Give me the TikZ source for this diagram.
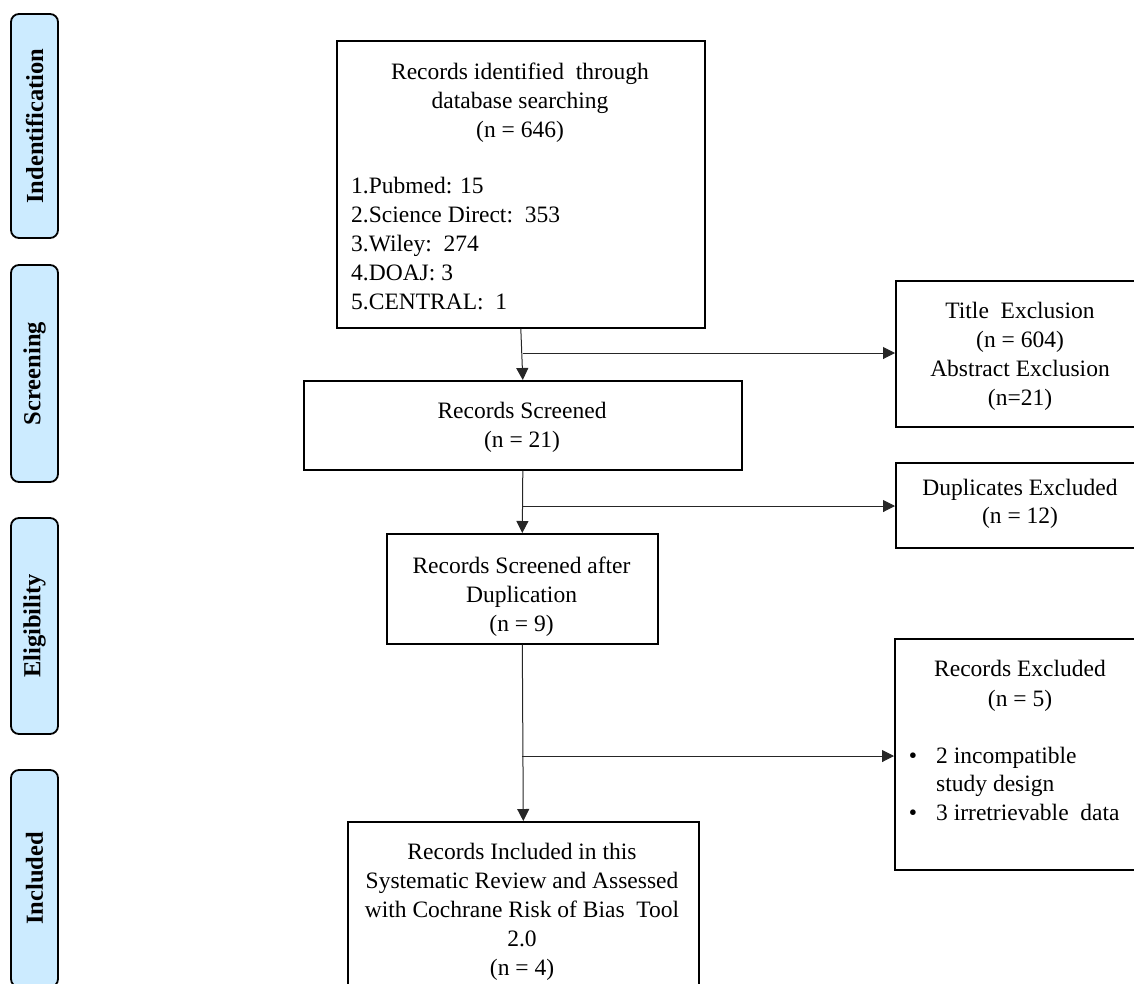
\documentclass[tikz,border=0pt]{standalone}
\usepackage{fontspec}
\setmainfont{Liberation Serif}
\usetikzlibrary{arrows.meta}
\definecolor{phaseblue}{RGB}{204,235,255}
\begin{document}
\begin{tikzpicture}[x=1pt,y=-1pt,
  phase/.style={draw, line width=1.8pt, rounded corners=8pt, fill=phaseblue, minimum width=47pt, inner sep=0pt},
  lbl/.style={rotate=90, font=\fontsize{24.5}{29}\selectfont\bfseries, inner sep=0pt},
  box/.style={draw, line width=1.6pt, inner sep=0pt, anchor=north west},
  txt/.style={font=\fontsize{23.5}{29}\selectfont, inner sep=0pt, anchor=base},
  ltxt/.style={txt, anchor=base west},
  arr/.style={line width=1pt, draw=black!85, -{Triangle[length=12pt,width=12pt]}}]
\useasboundingbox (0,0) rectangle (1134,983);
\clip (0,0) rectangle (1134,983);

% phase labels
\node[phase, minimum height=224pt] (p1) at (34.5,126) {};
\node[lbl] (l1) at (p1.center) {Indentification};
\node[phase, minimum height=217pt] (p2) at (34.5,373.5) {};
\node[lbl] (l2) at (p2.center) {Screening};
\node[phase, minimum height=216pt] (p3) at (34.5,626) {};
\node[lbl] (l3) at (p3.center) {Eligibility};
\node[phase, minimum height=217pt] (p4) at (34.5,878.5) {};
\node[lbl] (l4) at (p4.center) {Included};

% main boxes
\node[box, minimum width=368pt, minimum height=287pt] (b1) at (336,40) {};
\node[txt] (b1a) at (520,79) {Records identified\ \ through};
\node[txt] (b1b) at (520,108) {database searching};
\node[txt] (b1c) at (520,137) {(n = 646)};
\node[ltxt] (b1d) at (351,193) {1.Pubmed: 15};
\node[ltxt] (b1e) at (351,222) {2.Science Direct:\ \ 353};
\node[ltxt] (b1f) at (351,251) {3.Wiley:\ \ 274};
\node[ltxt] (b1g) at (351,280) {4.DOAJ: 3};
\node[ltxt] (b1h) at (351,309) {5.CENTRAL:\ \ 1};

\node[box, minimum width=438pt, minimum height=89pt] (b2) at (303,380) {};
\node[txt] (b2a) at (522,418) {Records Screened};
\node[txt] (b2b) at (522,447) {(n = 21)};

\node[box, minimum width=271pt, minimum height=110pt] (b3) at (386,533) {};
\node[txt] (b3a) at (521.5,573) {Records Screened after};
\node[txt] (b3b) at (521.5,602) {Duplication};
\node[txt] (b3c) at (521.5,631) {(n = 9)};

\node[box, minimum width=351pt, minimum height=180pt] (b4) at (347,821) {};
\node[txt] (b4a) at (522,859) {Records Included in this};
\node[txt] (b4b) at (522,888) {Systematic Review and Assessed};
\node[txt] (b4c) at (522,917) {with Cochrane Risk of Bias\ \ Tool};
\node[txt] (b4d) at (522,946) {2.0};
\node[txt] (b4e) at (522,975) {(n = 4)};

% exclusion boxes
\node[box, minimum width=255pt, minimum height=146pt] (r1) at (895,280) {};
\node[txt] (r1a) at (1020,318) {Title\ \ Exclusion};
\node[txt] (r1b) at (1020,347) {(n = 604)};
\node[txt] (r1c) at (1020,376) {Abstract Exclusion};
\node[txt] (r1d) at (1020,405) {(n=21)};

\node[box, minimum width=255pt, minimum height=85pt] (r2) at (895,462) {};
\node[txt] (r2a) at (1020,495) {Duplicates Excluded};
\node[txt] (r2b) at (1020,523) {(n = 12)};

\node[box, minimum width=255pt, minimum height=231pt] (r3) at (894,638) {};
\node[txt] (r3a) at (1020,676) {Records Excluded};
\node[txt] (r3b) at (1020,706) {(n = 5)};
\node[txt] (r3c) at (913,763) {•};
\node[ltxt] (r3d) at (936,763) {2 incompatible};
\node[ltxt] (r3e) at (936,791) {study design};
\node[txt] (r3f) at (913,820) {•};
\node[ltxt] (r3g) at (936,820) {3 irretrievable\ \ data};

% connectors
\draw[arr] (b1.south) -- (b2.north);
\coordinate (j1) at (523,353);
\draw[arr] (j1) -- (j1 -| r1.west);
\draw[arr] (b2.south) -- (b3.north);
\coordinate (j2) at (522,506);
\draw[arr] (j2) -- (j2 -| r2.west);
\draw[arr] (b3.south) -- (b4.north);
\coordinate (j3) at (522,756);
\draw[arr] (j3) -- (j3 -| r3.west);
\end{tikzpicture}
\end{document}
